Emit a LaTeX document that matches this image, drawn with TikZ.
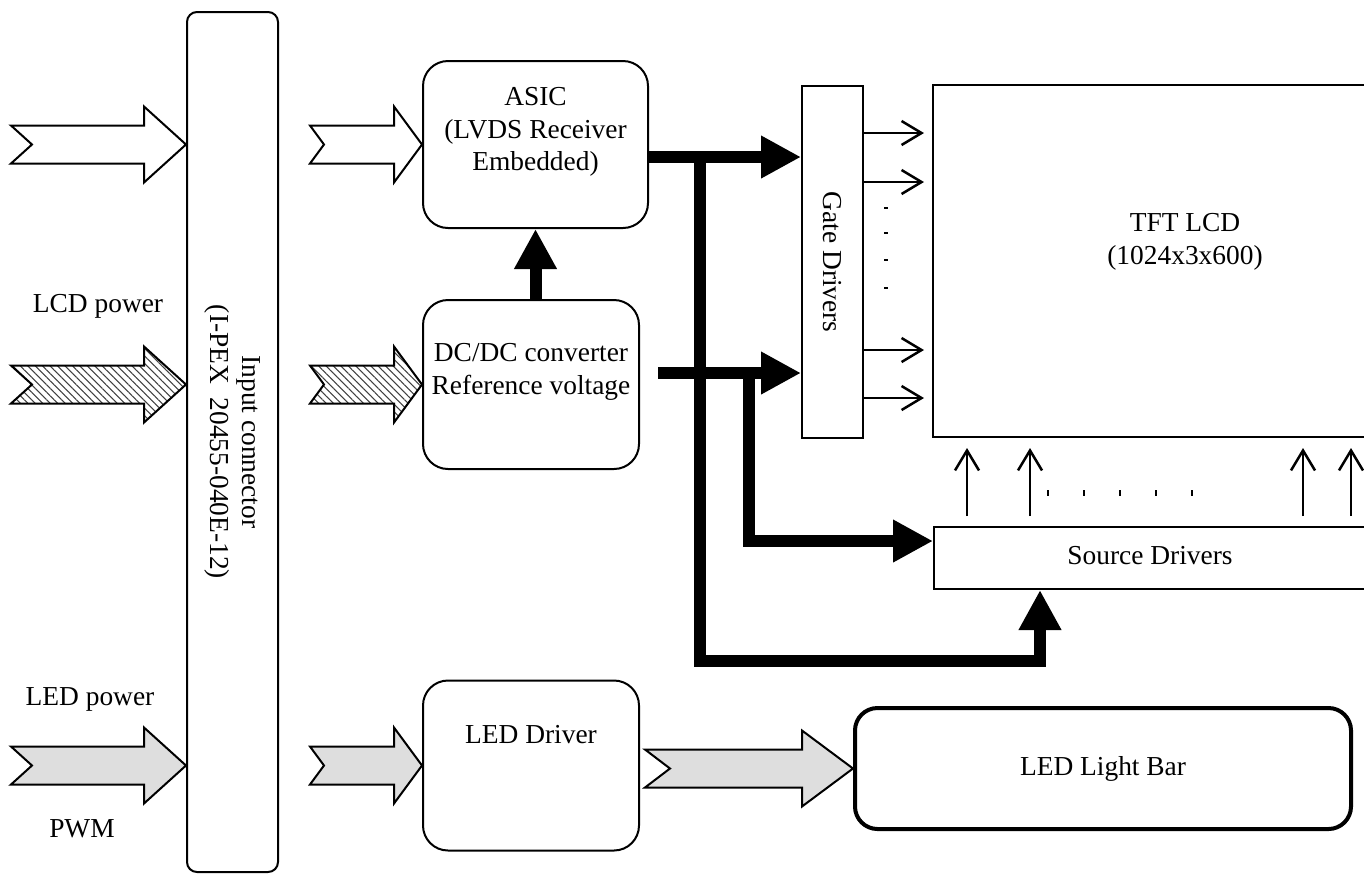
\documentclass[tikz,border=0pt]{standalone}
\usepackage{fontspec}
\setmainfont{Liberation Serif}
\usetikzlibrary{arrows.meta,patterns.meta,calc,positioning}

\tikzset{
  blk/.style={draw, line width=0.4mm, rounded corners=5mm, inner sep=0pt},
  sqbox/.style={draw, line width=0.4mm, inner sep=0pt},
  bus/.style={line width=2.4mm, -{Triangle[length=8mm,width=8mm]}},
  sig/.style={line width=0.5mm, -{Straight Barb[length=4mm,width=4.8mm]}},
  hollow/.style={fill=white},
  hatch/.style={pattern={Lines[angle=-45,distance=3pt,line width=0.6pt]}, pattern color=black!75},
  speck/.style={fill=black!13},
  txt/.style={font=\fontsize{15.6}{18.5}\selectfont, align=center, inner sep=0pt}
}

% chevron-tailed block arrow: style, tip, length, head length, notch
\newcommand{\fatarrow}[5]{%
  \draw[line width=0.4mm, #1] #2 -- ++(-#4,-38) -- ++(0,19) -- ++({-(#3-#4)},0)
    -- ++(#5,19) -- ++(-#5,19) -- ++({#3-#4},0) -- ++(0,19) -- cycle;}

\begin{document}
\begin{tikzpicture}[x=0.2mm, y=-0.2mm]
    \clip (0,0) rectangle (1364,875);
    % blocks
    \node[sqbox, rounded corners=2mm, minimum width=18.2mm, minimum height=172mm] (conn) at (232.5,442) {};
    \node[blk, minimum width=45mm, minimum height=33.4mm] (asic) at (535.5,144.5) {};
    \node[blk, minimum width=43.2mm, minimum height=33.8mm] (dcdc) at (531,384.5) {};
    \node[blk, minimum width=43.2mm, minimum height=34mm] (leddrv) at (531,765.5) {};
    \node[sqbox, minimum width=12.2mm, minimum height=70.4mm] (gate) at (832.5,262) {};
    \node[sqbox, minimum width=100.8mm, minimum height=70.4mm] (tft) at (1185,261) {};
    \node[sqbox, minimum width=86.4mm, minimum height=12.4mm] (src) at (1150,558) {};
    \node[draw, line width=0.8mm, rounded corners=4.5mm, minimum width=99.2mm, minimum height=24.2mm] (bar) at (1103,768.5) {};

    % texts
    \node[txt, rotate=-90] (conntxt) at (conn) {Input connector\\(I-PEX\ \ 20455-040E-12)};
    \node[txt] (asictxt) at (535.5,132) {ASIC\\(LVDS Receiver\\Embedded)};
    \node[txt] (dcdctxt) at (531,372) {DC/DC converter\\Reference voltage};
    \node[txt] (leddrvtxt) at (531,735) {LED Driver};
    \node[txt, rotate=-90] (gatetxt) at (gate) {Gate Drivers};
    \node[txt] (tfttxt) at (1185,242) {TFT LCD\\(1024x3x600)};
    \node[txt] (srctxt) at (1150,556) {Source Drivers};
    \node[txt] (bartxt) at (bar) {LED Light Bar};
    \node[txt] (lcdlbl) at (98,306) {LCD power};
    \node[txt] (ledlbl) at (90,699) {LED power};
    \node[txt] (pwmlbl) at (82,829) {PWM};

    % input arrows
    \fatarrow{hollow}{(conn.west |- asic.west)}{175}{42}{21}
    \fatarrow{hatch}{(conn.west |- dcdc.west)}{175}{42}{21}
    \fatarrow{speck}{(conn.west |- leddrv.west)}{175}{42}{21}
    \fatarrow{hollow}{(asic.west)}{112}{28}{14}
    \fatarrow{hatch}{(dcdc.west)}{112}{28}{14}
    \fatarrow{speck}{(leddrv.west)}{112}{28}{14}
    \fatarrow{speck}{(bar.west)}{208}{51}{25}

    % thick buses
    \coordinate (split1) at (700,157);
    \coordinate (low) at (700,661);
    \coordinate (srcfoot) at (1040,661);
    \coordinate (dcout) at (658,373);
    \coordinate (split2) at (749,373);
    \coordinate (srcside) at (749,541);
    \draw[bus] (asic.east |- split1) -- (gate.west |- split1);
    \draw[bus] (split1) -- (low) -- (srcfoot) -- (srcfoot |- src.south);
    \draw[bus] (dcout) -- (gate.west |- dcout);
    \draw[bus] (split2) -- (srcside) -- (src.west |- srcside);
    \draw[bus] (asic.south |- dcdc.north) -- (asic.south);

    % gate lines
    \foreach \y in {133,182,350,398} {
      \coordinate (r) at (0,\y);
      \draw[sig, shorten >=1.6mm] (gate.east |- r) -- (tft.west |- r);
    }
    \foreach \y in {208,233,260,288} \draw[line width=0.3mm] (884,\y) -- (888,\y);
    % source lines
    \foreach \x in {967,1030,1303,1351} {
      \coordinate (c) at (\x,0);
      \draw[sig, shorten <=2mm, shorten >=2mm] (src.north -| c) -- (tft.south -| c);
    }
    \foreach \x in {1048,1084,1120,1156,1192} \draw[line width=0.3mm] (\x,490) -- (\x,496);
\end{tikzpicture}
\end{document}
